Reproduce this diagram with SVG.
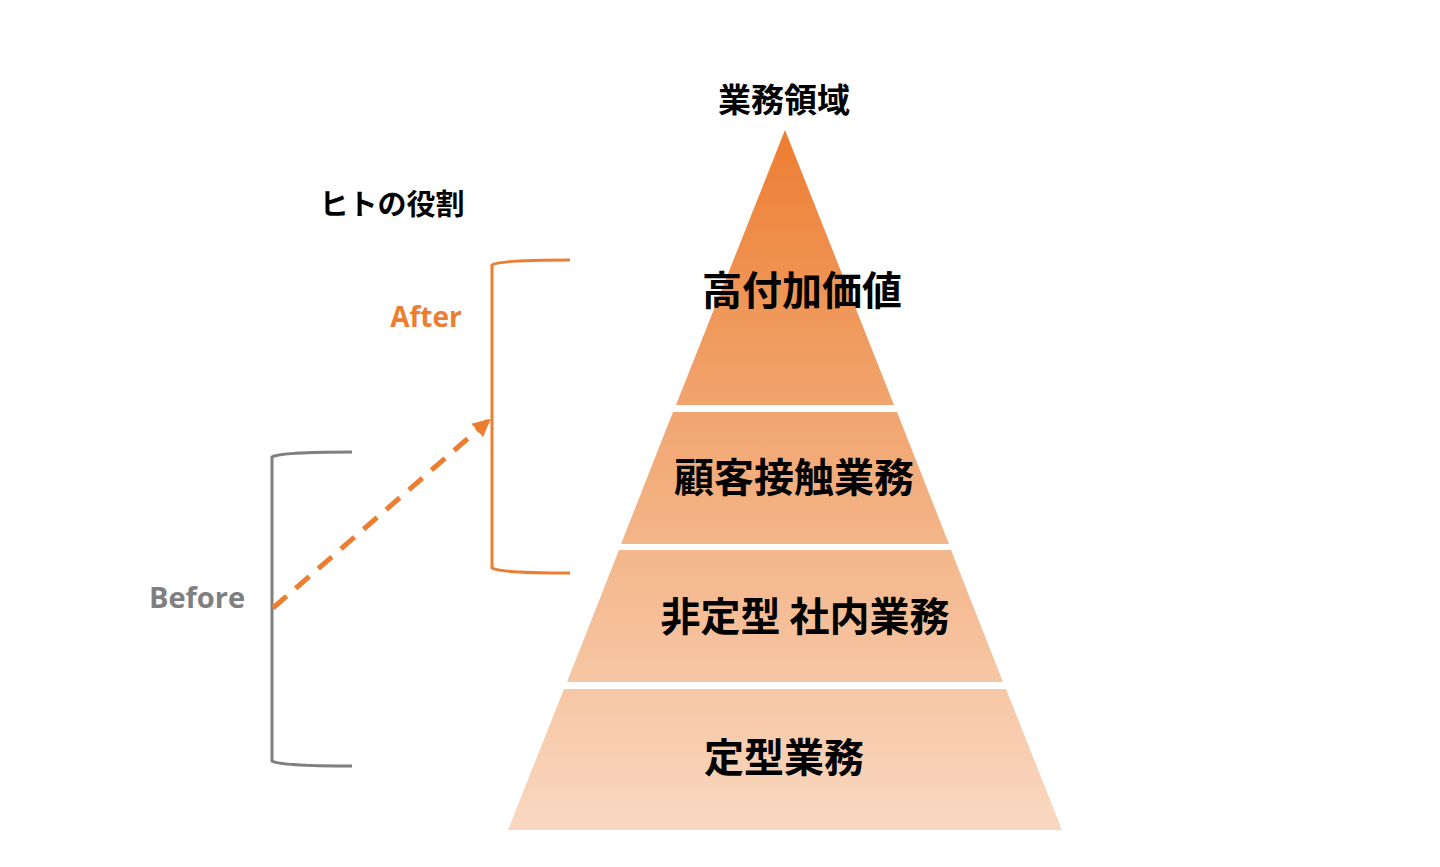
<svg xmlns="http://www.w3.org/2000/svg" width="1440" height="867" viewBox="0 0 1440 867">
<defs>
<linearGradient id="pg" gradientUnits="userSpaceOnUse" x1="0" y1="130" x2="0" y2="830">
<stop offset="0" stop-color="#ED7D31"/>
<stop offset="0.4" stop-color="#F1A56F"/>
<stop offset="1" stop-color="#F9D8C1"/>
</linearGradient>
<marker id="ah" viewBox="0 0 10 10" refX="8" refY="5" markerWidth="3.6" markerHeight="3.6" orient="auto">
<path d="M0,0 L10,5 L0,10 z" fill="#ED7D31"/>
</marker>
<style>
.seg{fill:url(#pg);}
.jp{font-family:"Noto Sans CJK JP","Noto Sans",sans-serif;font-weight:bold;fill:#000;text-anchor:middle;}
.lat{font-family:"Open Sans","Noto Sans","Liberation Sans",sans-serif;font-weight:bold;text-anchor:middle;}
.br{fill:none;stroke-width:3;}
</style>
</defs>
<rect width="1440" height="867" fill="#fff"/>
<g id="title"><text class="jp" x="784" y="112" font-size="33">業務領域</text></g>
<g id="role"><text class="jp" x="392" y="215" font-size="29">ヒトの役割</text></g>
<g id="tier1"><polygon class="seg" points="785,130 894,405 676,405"/><text class="jp" x="802" y="305" font-size="40">高付加価値</text></g>
<g id="tier2"><polygon class="seg" points="673,412 897,412 949,544 621,544"/><text class="jp" x="794" y="492" font-size="40">顧客接触業務</text></g>
<g id="tier3"><polygon class="seg" points="619,550 951,550 1003,682 567,682"/><text class="jp" x="805" y="631" font-size="40">非定型 社内業務</text></g>
<g id="tier4"><polygon class="seg" points="564,689 1006,689 1062,830 508,830"/><text class="jp" x="784" y="772" font-size="40">定型業務</text></g>
<g id="after"><path class="br" stroke="#ED7D31" d="M570,260 Q500,260 492,265 L492,568 Q500,573 570,573"/><text class="lat" x="426" y="327" font-size="28" fill="#ED7D31">After</text></g>
<g id="before"><path class="br" stroke="#7F7F7F" d="M352,452 Q280,452 272,457 L272,761 Q280,766 352,766"/><text class="lat" x="197" y="608" font-size="29" fill="#7F7F7F">Before</text></g>
<g id="connectors"><line x1="273" y1="608" x2="488" y2="421" stroke="#ED7D31" stroke-width="5" stroke-dasharray="18,12" marker-end="url(#ah)"/></g>
</svg>
